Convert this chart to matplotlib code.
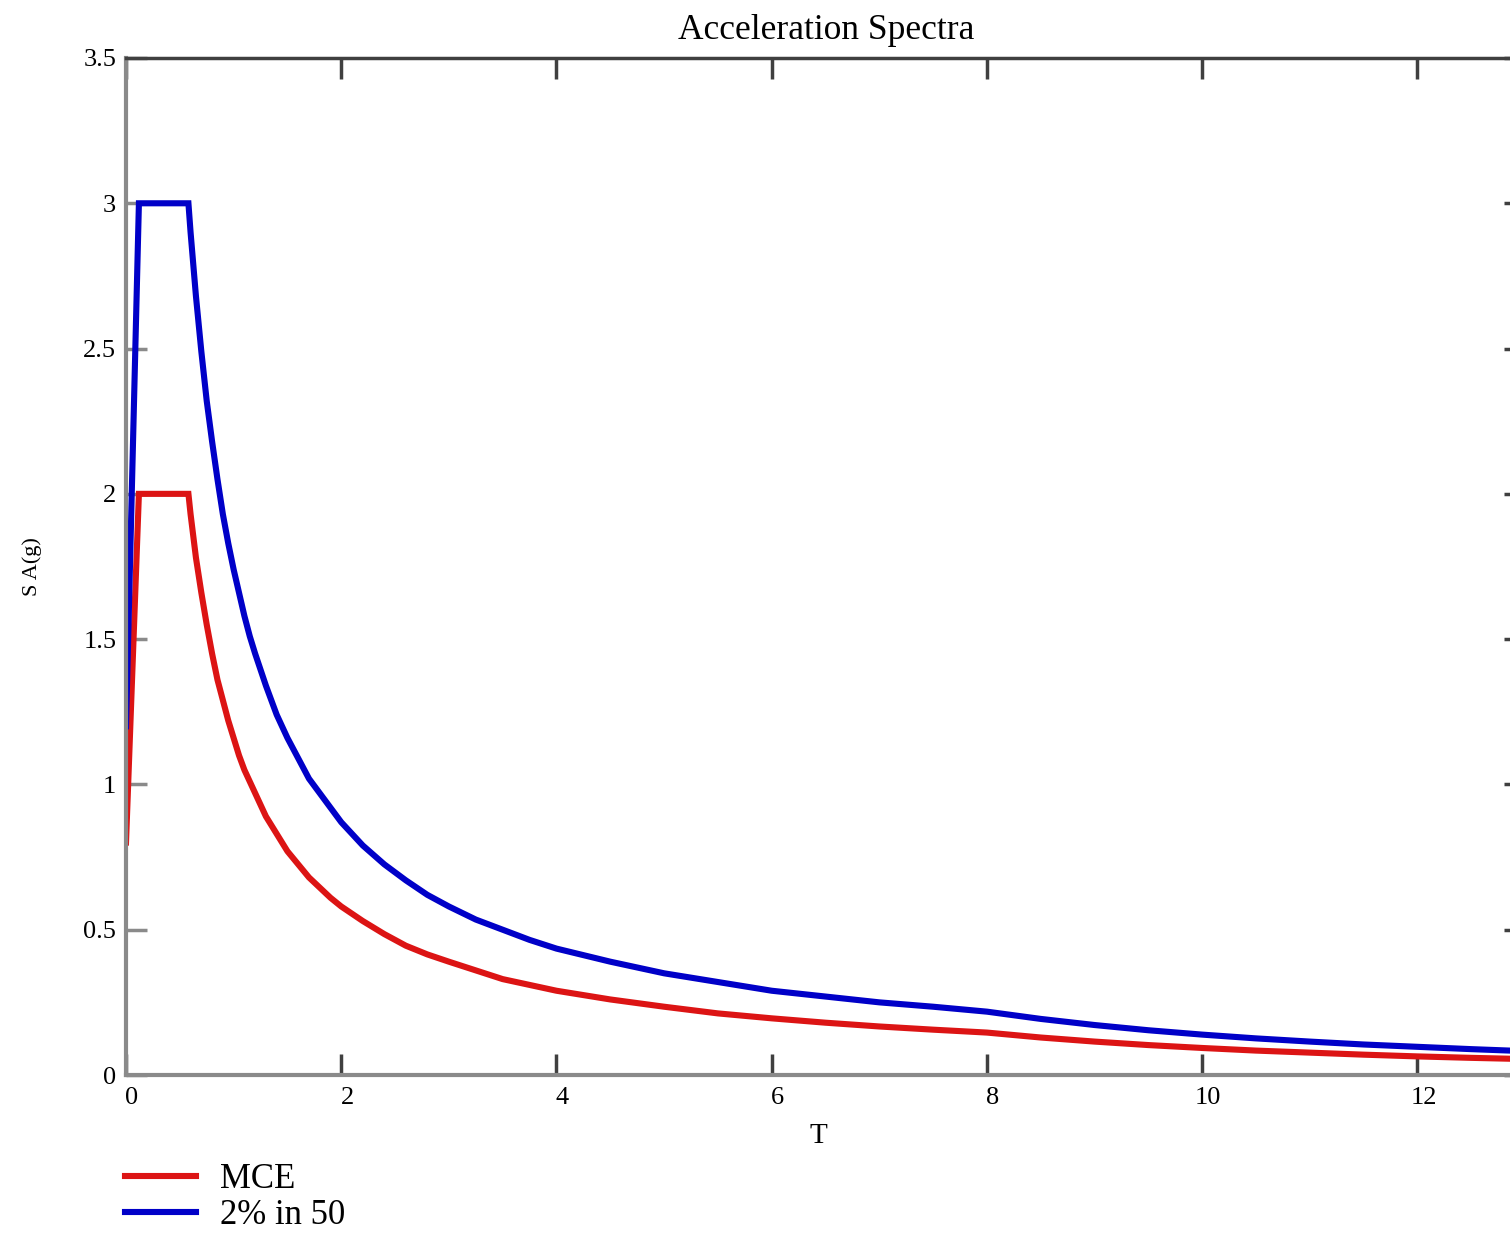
import matplotlib
matplotlib.use("Agg")
import matplotlib.pyplot as plt
import matplotlib.transforms as mtransforms

# Period T (s) and spectral accelerations (g)
T = [0.0, 0.12, 0.58, 0.60, 0.65, 0.70, 0.75, 0.80, 0.85, 0.90, 0.95, 1.00, 1.05, 1.10,
     1.15, 1.20, 1.30, 1.40, 1.50, 1.60, 1.70, 1.80, 1.90, 2.00, 2.20, 2.40, 2.60, 2.80,
     3.00, 3.25, 3.50, 3.75, 4.00, 4.50, 5.00, 5.50, 6.00, 6.50, 7.00, 7.50, 8.00, 8.50,
     9.00, 9.50, 10.00, 10.50, 11.00, 11.50, 12.00, 12.50, 12.86]
mce = [0.80, 2.00, 2.00, 1.93, 1.78, 1.66, 1.55, 1.45, 1.36, 1.29, 1.22, 1.16, 1.10, 1.05,
       1.01, 0.97, 0.89, 0.83, 0.77, 0.725, 0.68, 0.645, 0.61, 0.58, 0.53, 0.485, 0.445, 0.415,
       0.39, 0.36, 0.33, 0.31, 0.29, 0.26, 0.235, 0.212, 0.195, 0.18, 0.167, 0.156, 0.146, 0.129,
       0.115, 0.103, 0.093, 0.084, 0.077, 0.070, 0.064, 0.059, 0.056]
two_in_50 = [1.20, 3.00, 3.00, 2.90, 2.68, 2.49, 2.32, 2.18, 2.05, 1.93, 1.83, 1.74, 1.66, 1.58,
             1.51, 1.45, 1.34, 1.24, 1.16, 1.09, 1.02, 0.97, 0.92, 0.87, 0.79, 0.725, 0.67, 0.62,
             0.58, 0.535, 0.50, 0.465, 0.435, 0.39, 0.35, 0.32, 0.29, 0.27, 0.25, 0.235, 0.218, 0.193,
             0.172, 0.154, 0.139, 0.126, 0.115, 0.105, 0.097, 0.089, 0.084]

x_ticks = [0, 2, 4, 6, 8, 10, 12]
y_ticks = [0, 0.5, 1, 1.5, 2, 2.5, 3, 3.5]
y_tick_labels = ["0", "0.5", "1", "1.5", "2", "2.5", "3", "3.5"]

plt.rcParams["font.family"] = ["Liberation Serif", "DejaVu Serif"]

W, H = 1510, 1234
fig = plt.figure(figsize=(W / 100, H / 100), dpi=100)
ax = fig.add_axes([126 / W, (H - 1075) / H, (W - 126) / W, (1075 - 58) / H])

red = "#dc1414"
blue = "#0000c8"
l1, = ax.plot(T, mce, color=red, lw=4.4, solid_joinstyle="miter", label="MCE")
l2, = ax.plot(T, two_in_50, color=blue, lw=4.4, solid_joinstyle="miter", label="2% in 50")

ax.set_xlim(0, 12.86)
ax.set_ylim(0, 3.5)
ax.set_xticks(x_ticks)
ax.set_yticks(y_ticks)
ax.set_yticklabels(y_tick_labels)

for side in ["left", "bottom"]:
    ax.spines[side].set_color("#8a8a8a")
    ax.spines[side].set_linewidth(3)
ax.spines["top"].set_color("#404040")
ax.spines["top"].set_linewidth(2.5)
ax.spines["right"].set_visible(False)

ax.tick_params(axis="x", direction="in", length=15, width=2.5, color="#404040",
               top=True, bottom=True, labelsize=19, pad=9)
ax.tick_params(axis="y", direction="in", length=15, width=2.5, color="#8a8a8a",
               left=True, right=False, labelsize=19, pad=7)

sec = ax.secondary_yaxis("right")
sec.set_yticks(y_ticks)
sec.set_yticklabels([])
sec.tick_params(direction="in", length=4, width=2.5, color="#404040")
sec.spines["right"].set_visible(False)

offset = mtransforms.ScaledTranslation(6 / 100, 0, fig.dpi_scale_trans)
for lab in ax.get_xticklabels():
    lab.set_transform(lab.get_transform() + offset)

ax.set_title("Acceleration Spectra", fontsize=25.5, pad=14, x=0.506)
ax.set_xlabel("T", fontsize=21, labelpad=10)
ax.set_ylabel("S A(g)", fontsize=16, labelpad=30)

fig.legend(handles=[l1, l2], loc="upper left",
           bbox_to_anchor=(125 / W, 1 - 1163 / H), frameon=False,
           fontsize=25, handlelength=2.05, handletextpad=0.7,
           labelspacing=0.08, borderpad=0, borderaxespad=0)

fig.savefig("out.png", dpi=100)
